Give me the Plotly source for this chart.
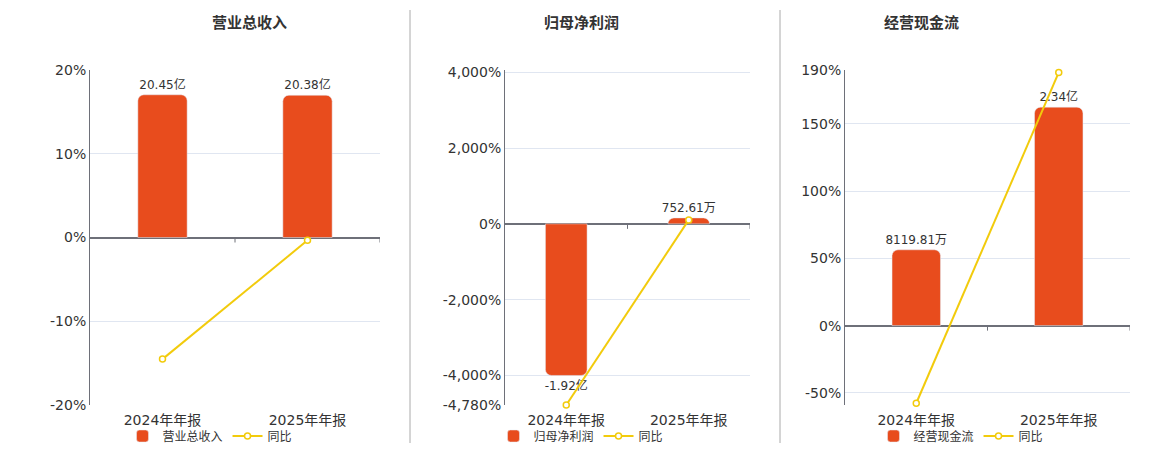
import plotly.graph_objects as go

# data
categories = ["2024年年报", "2025年年报"]
titles = ["营业总收入", "归母净利润", "经营现金流"]

revenue = [20.45, 20.38]          # 亿
revenue_text = ["20.45亿", "20.38亿"]
revenue_yoy = [-14.52, -0.34]     # %

profit = [-1.92, 0.0753]          # 亿
profit_text = ["-1.92亿", "752.61万"]
profit_yoy = [-4780, 103.92]

cashflow = [0.8120, 2.34]         # 亿
cashflow_text = ["8119.81万", "2.34亿"]
cashflow_yoy = [-57.7, 188.2]

BAR = "#E84C1D"
LINE = "#F2CB0C"
AXIS = "#6E7079"
GRID = "#E0E6F1"
FONT = "DejaVu Sans, Noto Sans CJK SC, sans-serif"

W, H = 1160, 450
OFF = 8  # page body margin


def xf(px):
    return (px - OFF) / W


def yf(py):
    return 1 - (py - OFF) / H


panels = [
    dict(bars=revenue, text=revenue_text, yoy=revenue_yoy, name="营业总收入",
         xdom=(90, 380), pct=(-20, 20), bar=(-24, 24),
         tickvals=[-20, -10, 0, 10, 20], ticktext=["-20%", "-10%", "0%", "10%", "20%"],
         center=210),
    dict(bars=profit, text=profit_text, yoy=profit_yoy, name="归母净利润",
         xdom=(505, 750), pct=(-4780, 4060), bar=(-4780 * 1.92 / 4000, 4060 * 1.92 / 4000),
         tickvals=[-4780, -4000, -2000, 0, 2000, 4000, 4060],
         ticktext=["-4,780%", "-4,000%", "-2,000%", "0%", "2,000%", "4,000%", ""],
         center=581),
    dict(bars=cashflow, text=cashflow_text, yoy=cashflow_yoy, name="经营现金流",
         xdom=(845, 1130), pct=(-59, 190), bar=(-59 / 69.4, 190 / 69.4),
         tickvals=[-59, -50, 0, 50, 100, 150, 190],
         ticktext=["", "-50%", "0%", "50%", "100%", "150%", "190%"],
         center=961),
]

fig = go.Figure()
layout = {}
annotations = []
shapes = []

for i, p in enumerate(panels):
    n = i + 1
    xa = "x" if n == 1 else f"x{n}"
    ybar = f"y{2 * n - 1}" if n > 1 else "y"
    ypct = f"y{2 * n}"
    leg = "legend" if n == 1 else f"legend{n}"

    fig.add_trace(go.Bar(
        x=categories, y=p["bars"], name=p["name"], xaxis=xa, yaxis=ybar,
        marker=dict(color=BAR, cornerradius=6), width=0.34,
        text=p["text"], textposition="outside", cliponaxis=False,
        constraintext="none", textangle=0,
        textfont=dict(size=12, color="#333"), legend=leg, hoverinfo="skip",
    ))
    fig.add_trace(go.Scatter(
        x=categories, y=p["yoy"], name="同比", xaxis=xa, yaxis=ypct,
        mode="lines+markers", line=dict(color=LINE, width=2),
        marker=dict(symbol="circle", size=6, color="white", line=dict(color=LINE, width=1.5)),
        cliponaxis=False, legend=leg, hoverinfo="skip",
    ))

    xkey = "xaxis" if n == 1 else f"xaxis{n}"
    ybk = "yaxis" if n == 1 else f"yaxis{2 * n - 1}"
    ypk = f"yaxis{2 * n}"
    ydom = [yf(405), yf(70)]
    layout[xkey] = dict(
        domain=[xf(p["xdom"][0]), xf(p["xdom"][1])], anchor=ybar,
        type="category", range=[-0.5, 1.5], showgrid=False, showline=False,
        ticks="", tickfont=dict(size=14, color="#333"), fixedrange=True,
        automargin=False, ticklabelstandoff=5,
    )
    layout[ybk] = dict(
        domain=ydom, anchor=xa, range=list(p["bar"]),
        visible=False, fixedrange=True,
    )
    layout[ypk] = dict(
        domain=ydom, anchor=xa, overlaying=ybar, side="left",
        range=list(p["pct"]), tickvals=p["tickvals"], ticktext=p["ticktext"],
        showgrid=True, gridcolor=GRID, gridwidth=1,
        zeroline=True, zerolinecolor=AXIS, zerolinewidth=2,
        showline=True, linecolor=AXIS, linewidth=1,
        ticks="", tickfont=dict(size=14, color="#333"), fixedrange=True,
        automargin=False,
    )
    layout[leg] = dict(
        orientation="h", x=xf(p["center"]), xanchor="center",
        y=yf(436), yanchor="middle", font=dict(size=12, color="#333"),
        bgcolor="rgba(0,0,0,0)", itemwidth=30, tracegroupgap=0,
    )
    annotations.append(dict(
        text=f"<b>{titles[i]}</b>", x=xf(p["center"]), y=yf(23),
        xref="paper", yref="paper", showarrow=False, yanchor="middle",
        font=dict(size=15, color="#333"),
    ))
    # category boundary ticks hanging from the zero line
    for bx in [0.5, 1.5]:
        shapes.append(dict(type="line", xref=xa, yref=ypct, x0=bx, x1=bx,
                           ysizemode="pixel", yanchor=0, y0=0, y1=-5,
                           line=dict(color=AXIS, width=1)))

for sx in [410, 780]:
    shapes.append(dict(type="line", xref="paper", yref="paper",
                       x0=xf(sx), x1=xf(sx), y0=yf(443), y1=yf(10),
                       line=dict(color="#AAAAAA", width=1)))

fig.update_layout(
    width=W, height=H, margin=dict(l=0, r=0, t=0, b=0, autoexpand=False),
    paper_bgcolor="white", plot_bgcolor="white",
    font=dict(family=FONT, color="#333"),
    annotations=annotations, shapes=shapes, bargap=0.3,
    **layout,
)

fig.write_html("out.html")
